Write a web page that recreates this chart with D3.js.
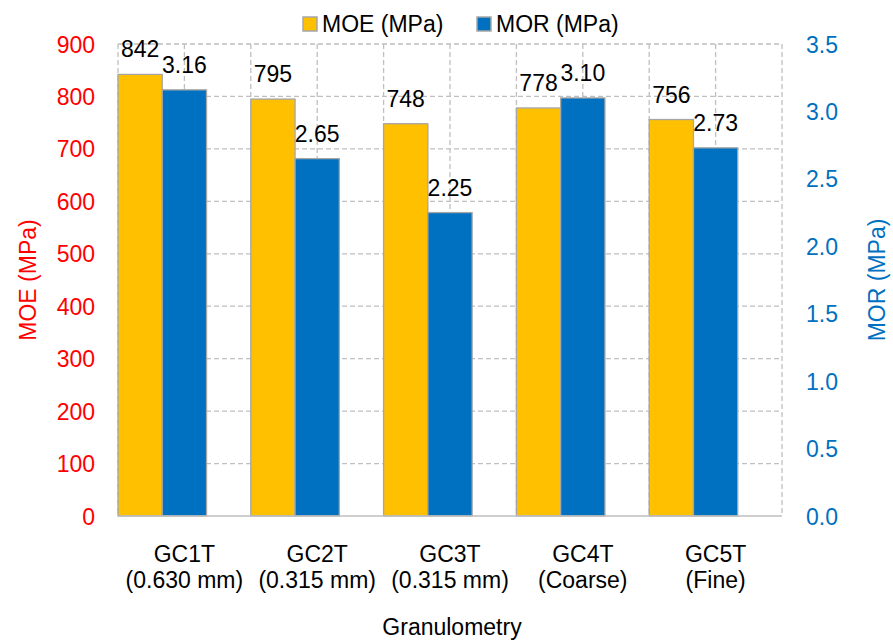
<!DOCTYPE html>
<html>
<head>
<meta charset="utf-8">
<script src="https://cdn.jsdelivr.net/npm/d3@7"></script>
<style>
  html, body { margin: 0; padding: 0; background: #fff; }
  svg { display: block; font-family: "Liberation Sans", Arial, sans-serif; }
</style>
</head>
<body>
<svg id="chart" width="893" height="641"></svg>
<script>
// Flexural properties by granulometry
const categories = ["GC1T|(0.630 mm)", "GC2T|(0.315 mm)", "GC3T|(0.315 mm)", "GC4T|(Coarse)", "GC5T|(Fine)"];
const moeValues = [842, 795, 748, 778, 756];
const morValues = [3.16, 2.65, 2.25, 3.10, 2.73];
const moeTicks = [0, 100, 200, 300, 400, 500, 600, 700, 800, 900];
const morTicks = [0, 0.5, 1.0, 1.5, 2.0, 2.5, 3.0, 3.5];
const seriesNames = ["MOE (MPa)", "MOR (MPa)"];

const W = 893, H = 641;
const FS = 23;
const margin = { left: 118, right: 111, top: 44, bottom: 125 };
const plotW = W - margin.left - margin.right;
const plotH = H - margin.top - margin.bottom;

const colMOE = "#FFC000", colMOR = "#0070C0", red = "#FF0000";
const svg = d3.select("#chart");
const g = svg.append("g").attr("transform", `translate(${margin.left},${margin.top})`);

const x = d3.scaleBand().domain(categories).range([0, plotW]).padding(0);
const yL = d3.scaleLinear().domain([0, 900]).range([plotH, 0]);
const yR = d3.scaleLinear().domain([0, 3.5]).range([plotH, 0]);
const bw = x.bandwidth() / 3;

// horizontal gridlines
g.selectAll(".hgrid").data(moeTicks.slice(1)).join("line")
  .attr("x1", 0).attr("x2", plotW)
  .attr("y1", d => yL(d)).attr("y2", d => yL(d))
  .attr("stroke", "#BFBFBF").attr("stroke-width", 1.3).attr("stroke-dasharray", "5,3");

// vertical gridlines at every half category
const vPos = [];
categories.forEach(c => { vPos.push(x(c)); vPos.push(x(c) + x.bandwidth() / 2); });
vPos.push(plotW);
g.selectAll(".vgrid").data(vPos).join("line")
  .attr("x1", d => d).attr("x2", d => d)
  .attr("y1", 0).attr("y2", plotH)
  .attr("stroke", "#BFBFBF").attr("stroke-width", 1.3).attr("stroke-dasharray", "5,3");

// bars
g.selectAll(".moe").data(moeValues).join("rect")
  .attr("x", (d, i) => x(categories[i]))
  .attr("y", d => yL(d)).attr("width", bw).attr("height", d => plotH - yL(d))
  .attr("fill", colMOE).attr("stroke", "#A6A6A6").attr("stroke-width", 1.3);
g.selectAll(".mor").data(morValues).join("rect")
  .attr("x", (d, i) => x(categories[i]) + bw)
  .attr("y", d => yR(d)).attr("width", bw).attr("height", d => plotH - yR(d))
  .attr("fill", colMOR).attr("stroke", "#A6A6A6").attr("stroke-width", 1.3);

// bottom axis line
g.append("line").attr("x1", 0).attr("x2", plotW).attr("y1", plotH).attr("y2", plotH)
  .attr("stroke", "#BFBFBF").attr("stroke-width", 1.5);

// value labels
g.selectAll(".lmoe").data(moeValues).join("text")
  .attr("x", (d, i) => x(categories[i]) + bw / 2).attr("y", d => yL(d) - 17)
  .attr("text-anchor", "middle").attr("font-size", FS).attr("fill", "#000")
  .text(d => d);
g.selectAll(".lmor").data(morValues).join("text")
  .attr("x", (d, i) => x(categories[i]) + bw * 1.5).attr("y", d => yR(d) - 17)
  .attr("text-anchor", "middle").attr("font-size", FS).attr("fill", "#000")
  .text(d => d.toFixed(2));

// left axis
const axL = g.append("g").call(d3.axisLeft(yL).tickValues(moeTicks).tickSize(0).tickPadding(23));
axL.select(".domain").remove();
axL.selectAll("text").attr("font-size", FS).attr("fill", red).attr("font-family", "Liberation Sans, Arial, sans-serif").attr("dy", "0.35em");

// right axis
const axR = g.append("g").attr("transform", `translate(${plotW},0)`)
  .call(d3.axisRight(yR).tickValues(morTicks).tickSize(0).tickPadding(24).tickFormat(d3.format(".1f")));
axR.select(".domain").remove();
axR.selectAll("text").attr("font-size", FS).attr("fill", colMOR).attr("font-family", "Liberation Sans, Arial, sans-serif").attr("dy", "0.35em");

// category labels (two lines)
const cl = g.selectAll(".cat").data(categories).join("text")
  .attr("text-anchor", "middle").attr("font-size", FS).attr("fill", "#000");
cl.each(function (d) {
  const parts = d.split("|");
  const t = d3.select(this);
  parts.forEach((p, k) => {
    t.append("tspan").attr("x", x(d) + x.bandwidth() / 2).attr("y", plotH + 46 + k * 26).text(p);
  });
});

// axis titles
svg.append("text").attr("transform", "translate(36,280) rotate(-90)")
  .attr("text-anchor", "middle").attr("font-size", FS).attr("fill", red).text("MOE (MPa)");
svg.append("text").attr("transform", "translate(885,280) rotate(-90)")
  .attr("text-anchor", "middle").attr("font-size", FS).attr("fill", colMOR).text("MOR (MPa)");
svg.append("text").attr("x", margin.left + plotW / 2 + 2).attr("y", 635)
  .attr("text-anchor", "middle").attr("font-size", FS).attr("fill", "#000").text("Granulometry");

// legend
const legX = [303, 477];
const lg = svg.selectAll(".leg").data(seriesNames).join("g")
  .attr("transform", (d, i) => `translate(${legX[i]},17)`);
lg.append("rect").attr("width", 14).attr("height", 14)
  .attr("fill", (d, i) => i === 0 ? colMOE : colMOR).attr("stroke", "#A6A6A6").attr("stroke-width", 1.5);
lg.append("text").attr("x", 19).attr("y", 15).attr("font-size", FS).attr("fill", "#000").text(d => d);
</script>
</body>
</html>
